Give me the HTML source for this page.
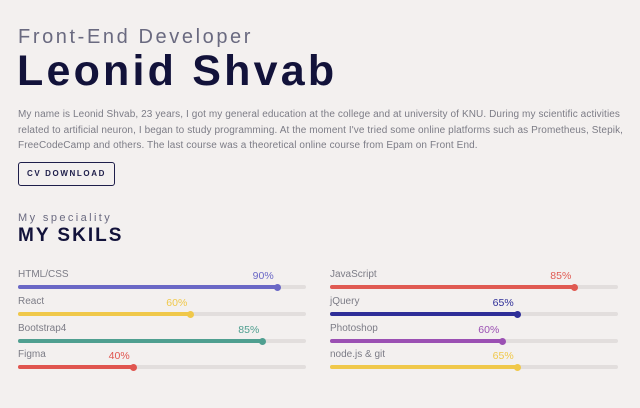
<!DOCTYPE html>
<html><head><meta charset="utf-8"><style>
body{margin:0;width:640px;height:408px;background:#f3f0ef;font-family:"Liberation Sans",sans-serif;position:relative;overflow:hidden}
.a{position:absolute;white-space:nowrap}
#sub{left:18px;top:26px;font-size:20px;letter-spacing:2.6px;color:#6a6a80}
#name{left:17px;top:47px;font-size:43px;font-weight:bold;letter-spacing:3.2px;color:#12123a}
#bio{left:18px;top:107px;font-size:10px;letter-spacing:0.1px;line-height:15.5px;color:#7c7c86;width:616px;white-space:normal}
#cv{left:18px;top:162px;width:97px;height:24px;border:1.5px solid #1e1e4a;border-radius:3px;box-sizing:border-box;font-size:8px;font-weight:bold;letter-spacing:1.6px;color:#1e1e4a;text-align:center;line-height:21px}
#spec{left:18px;top:212px;font-size:11px;letter-spacing:2.4px;color:#6a6a80}
#skills{left:18px;top:225px;font-size:19px;font-weight:bold;letter-spacing:2px;color:#12123a}
.lbl{font-size:10px;color:#7c7c86}
.pct{font-size:10.5px;transform:translateX(-50%)}
</style></head><body>
<div class="a" id="sub">Front-End Developer</div>
<div class="a" id="name">Leonid Shvab</div>
<div class="a" id="bio">My name is Leonid Shvab, 23 years, I got my general education at the college and at university of KNU. During my scientific activities related to artificial neuron, I began to study programming. At the moment I've tried some online platforms such as Prometheus, Stepik, FreeCodeCamp and others. The last course was a theoretical online course from Epam on Front End.</div>
<div class="a" id="cv">CV DOWNLOAD</div>
<div class="a" id="spec">My speciality</div>
<div class="a" id="skills">MY SKILS</div>
<div id="chart"></div>
<script>
const leftSkills=["HTML/CSS","React","Bootstrap4","Figma"];
const leftValues=[90,60,85,40];
const rightSkills=["JavaScript","jQuery","Photoshop","node.js & git"];
const rightValues=[85,65,60,65];
const leftColors=["#6a68c6","#f0c84a","#4f9f90","#e0554f"];
const rightColors=["#e05a52","#2e2e98","#9b50b3","#f0c84a"];
const chart=document.getElementById('chart');
const W=288,rowY=[287,314,341,367];
function xs(v,x0){return x0+v/100*W;}
function col(names,vals,colors,x0){
 names.forEach((n,i)=>{
  const y=rowY[i];
  const l=document.createElement('div');l.className='a lbl';l.style.left=x0+'px';l.style.top=(y-18)+'px';l.textContent=n;
  
  
  chart.appendChild(l);
  const t=document.createElement('div');t.className='a';t.style.cssText=`left:${x0}px;top:${y-2}px;width:${W}px;height:4px;border-radius:2px;background:#e2dedd`;
  
  
  chart.appendChild(t);
  const x=xs(vals[i],x0);
  const b=document.createElement('div');b.className='a';b.style.cssText=`left:${x0}px;top:${y-2}px;width:${x-x0}px;height:4px;border-radius:2px;background:${colors[i]}`;
  
  
  chart.appendChild(b);
  const d=document.createElement('div');d.className='a';d.style.cssText=`left:${x-3.5}px;top:${y-3.5}px;width:7px;height:7px;border-radius:50%;background:${colors[i]}`;
  
  
  chart.appendChild(d);
  const p=document.createElement('div');p.className='a pct';p.style.left=(x-14)+'px';p.style.top=(y-17)+'px';p.style.color=colors[i];p.textContent=vals[i]+'%';
  
  
  chart.appendChild(p);
 });
}
col(leftSkills,leftValues,leftColors,18);
col(rightSkills,rightValues,rightColors,330);
</script>
</body></html>
